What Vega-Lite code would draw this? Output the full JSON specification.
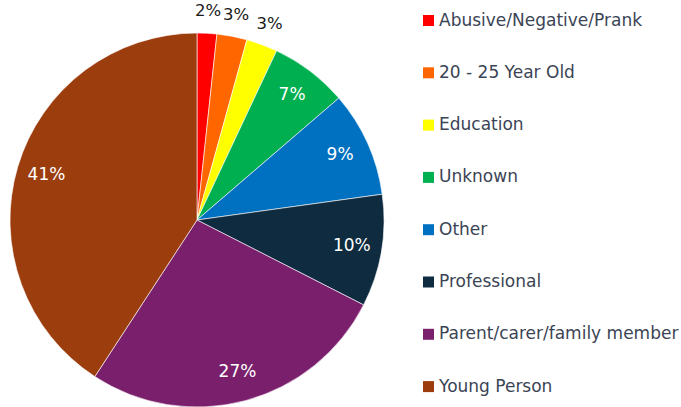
{
  "$schema": "https://vega.github.io/schema/vega-lite/v6.json",
  "autosize": "none",
  "width": 394,
  "height": 374,
  "padding": {"left": 0, "top": 33, "right": 287, "bottom": 0},
  "background": "#ffffff",
  "config": {"view": {"stroke": null}, "font": "DejaVu Sans"},
  "data": {
    "values": [
      {"category": "Abusive/Negative/Prank", "order": 1, "value": 1.7, "label": "2%"},
      {"category": "20 - 25 Year Old", "order": 2, "value": 2.6, "label": "3%"},
      {"category": "Education", "order": 3, "value": 2.7, "label": "3%"},
      {"category": "Unknown", "order": 4, "value": 6.7, "label": "7%"},
      {"category": "Other", "order": 5, "value": 9.1, "label": "9%"},
      {"category": "Professional", "order": 6, "value": 9.7, "label": "10%"},
      {"category": "Parent/carer/family member", "order": 7, "value": 26.7, "label": "27%"},
      {"category": "Young Person", "order": 8, "value": 40.8, "label": "41%"}
    ]
  },
  "encoding": {
    "theta": {"field": "value", "type": "quantitative", "stack": true},
    "order": {"field": "order", "type": "quantitative", "sort": "ascending"}
  },
  "layer": [
    {
      "mark": {"type": "arc", "outerRadius": 187, "stroke": "#ffffff", "strokeWidth": 0.6},
      "encoding": {
        "color": {
          "field": "category",
          "type": "nominal",
          "sort": {"field": "order", "order": "ascending"},
          "scale": {
            "domain": ["Abusive/Negative/Prank", "20 - 25 Year Old", "Education", "Unknown", "Other", "Professional", "Parent/carer/family member", "Young Person"],
            "range": ["#FF0000", "#FF6600", "#FFFF00", "#00B050", "#0070C0", "#0E2B40", "#7A1F6C", "#9C3D0E"]
          },
          "legend": {
            "title": null,
            "orient": "none",
            "legendX": 420,
            "legendY": -21,
            "padding": 0,
            "symbolType": "square",
            "symbolSize": 121,
            "symbolStrokeWidth": 0,
            "labelFont": "DejaVu Sans",
            "labelFontSize": 17,
            "labelColor": "#3B4455",
            "labelOffset": 2,
            "rowPadding": 34.3,
            "labelLimit": 300
          }
        }
      }
    },
    {
      "mark": {"type": "text", "radius": 157, "fontSize": 17, "fill": "#ffffff", "font": "DejaVu Sans"},
      "encoding": {
        "text": {"field": "label"},
        "opacity": {"condition": {"test": "datum.value < 5", "value": 0}, "value": 1}
      }
    },
    {
      "mark": {"type": "text", "radius": 209, "fontSize": 16.5, "fill": "#1a1a1a", "font": "DejaVu Sans"},
      "encoding": {
        "text": {"field": "label"},
        "opacity": {"condition": {"test": "datum.value < 5", "value": 1}, "value": 0}
      }
    }
  ]
}
